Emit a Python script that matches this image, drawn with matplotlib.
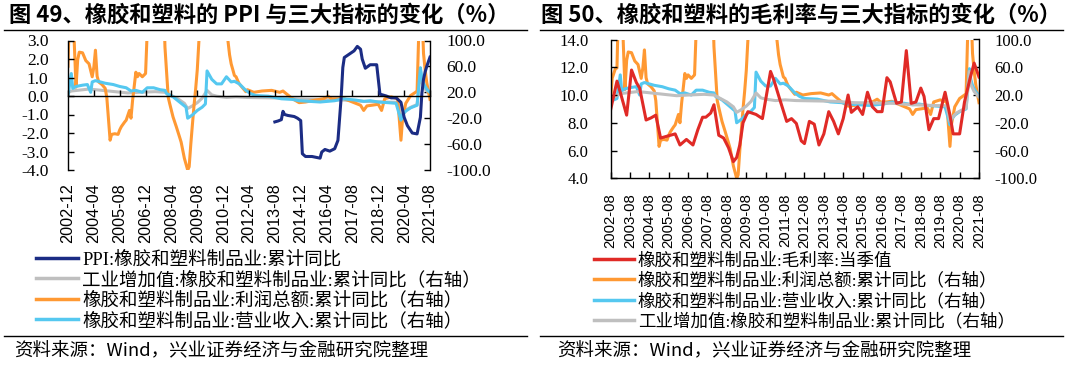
import matplotlib
matplotlib.use('Agg')
import matplotlib.pyplot as plt
import matplotlib.ticker as mticker
from matplotlib.lines import Line2D
from matplotlib.transforms import blended_transform_factory
import pandas as pd
import numpy as np

plt.rcParams['font.family'] = ['Noto Sans CJK SC', 'DejaVu Sans']

# ---------------- data ----------------
ppi_dates = ["2013-08", "2013-10", "2013-12", "2014-01", "2014-02", "2014-04", "2014-06", "2014-08",
             "2014-10", "2014-12", "2015-01", "2015-03", "2015-07", "2015-12", "2016-01", "2016-03",
             "2016-06", "2016-09", "2016-11", "2017-01", "2017-02", "2017-03", "2017-06", "2017-09",
             "2017-11", "2018-01", "2018-02", "2018-04", "2018-07", "2018-11", "2019-01", "2019-05",
             "2019-08", "2019-11", "2020-02", "2020-04", "2020-06", "2020-09", "2020-12", "2021-02",
             "2021-03", "2021-04", "2021-05", "2021-06", "2021-07", "2021-08"]
ppi_vals = [-1.40, -1.35, -1.28, -0.83, -1.00, -1.05, -1.08, -1.11,
            -1.20, -1.33, -3.12, -3.27, -3.27, -3.36, -3.03, -2.89,
            -2.98, -2.85, -2.40, -0.07, 1.54, 2.08, 2.26, 2.44,
            2.68, 2.53, 2.00, 1.50, 1.69, 1.69, 0.10, 0.00,
            -0.10, -0.10, -0.34, -1.15, -1.60, -2.00, -2.05, -1.15,
            0.15, 0.90, 1.30, 1.60, 1.85, 2.10]

profit_dates = ["2002-08", "2002-09", "2002-11", "2002-12", "2003-01", "2003-03", "2003-04", "2003-05",
                "2003-06", "2003-07", "2003-09", "2003-11", "2004-01", "2004-03", "2004-04", "2004-05",
                "2004-06", "2004-07", "2004-09", "2004-11", "2004-12", "2005-02", "2005-03", "2005-05",
                "2005-07", "2005-08", "2005-09", "2005-11", "2005-12", "2006-02", "2006-03", "2006-04",
                "2006-06", "2006-07", "2006-08", "2006-10", "2006-12", "2007-02", "2007-11", "2007-12",
                "2008-02", "2008-03", "2008-05", "2008-07", "2008-09", "2008-10", "2008-12", "2009-02",
                "2009-03", "2009-04", "2009-05", "2009-06", "2009-07", "2009-08", "2009-09", "2009-10",
                "2011-02", "2011-03", "2011-04", "2011-05", "2011-06", "2011-07", "2011-08", "2011-09",
                "2011-10", "2011-12", "2012-02", "2012-03", "2012-07", "2012-12", "2013-06", "2013-11",
                "2014-01", "2014-03", "2014-07", "2014-11", "2015-03", "2015-09", "2016-02", "2016-05",
                "2016-07", "2016-11", "2017-02", "2017-05", "2017-10", "2018-01", "2018-03", "2018-05",
                "2018-08", "2018-12", "2019-02", "2019-04", "2019-08", "2019-12", "2020-02", "2020-03",
                "2020-05", "2020-08", "2020-11", "2020-12", "2021-02", "2021-03", "2021-04", "2021-05",
                "2021-06", "2021-07", "2021-08"]
profit_vals = [10, 44, 58, 59, 160, 160, 90, 28,
               70, 82, 81, 69, 64, 44, 59, 85,
               45, 36, 32, 26, 12, -54, -45, -44,
               -45, -38, -33, -26, -23, -8, -20, 8,
               51, 44, 49, 44, 49, 180, 180, 90,
               12, 2, -18, -33, -49, -57, -82, -100,
               -95, -60, -30, 0, 25, 55, 100, 180,
               180, 100, 78, 64, 55, 46, 44, 38,
               33, 27, 21, 24, 20, 22, 23, 20,
               22, 18, 10, 4, 5, 8, 10, 14,
               10, 10, 11, 8, 3, 0, -8, -1,
               0, 1.5, -8, 10, 13, 10, -54, -22,
               3, 15, 20, 22, 200, 150, 80, 55,
               35, 22, 9]

revenue_dates = ["2002-08", "2002-09", "2002-11", "2002-12", "2003-02", "2003-03", "2003-05", "2003-09",
                 "2003-12", "2004-02", "2004-03", "2004-05", "2004-08", "2004-11", "2005-04", "2005-08",
                 "2005-12", "2006-03", "2006-06", "2006-10", "2007-01", "2007-05", "2007-09", "2007-12",
                 "2008-01", "2008-05", "2008-09", "2009-01", "2009-02", "2009-05", "2009-08", "2009-11",
                 "2010-01", "2010-02", "2010-05", "2010-08", "2010-11", "2011-02", "2011-05", "2011-07",
                 "2011-10", "2012-02", "2012-05", "2012-08", "2013-04", "2013-12", "2014-07", "2014-11",
                 "2015-12", "2016-09", "2017-02", "2017-06", "2017-10", "2018-03", "2018-07", "2018-12",
                 "2019-06", "2019-11", "2020-02", "2020-03", "2020-05", "2020-08", "2020-12", "2021-02",
                 "2021-03", "2021-04", "2021-05", "2021-06", "2021-07", "2021-08"]
revenue_vals = [6, 12, 14, 15, 49, 26, 29, 31,
                32, 20, 36, 38, 36, 34, 32, 29,
                27, 22, 23, 20, 27, 27, 24, 23,
                18, 13, 5, -3, -20, -15, -8, -3,
                2, 53, 40, 33, 33, 44, 36, 37,
                33, 23, 18, 15, 14, 10, 9, 7,
                5, 7, 10, 9, 8, 6, 7, 5,
                4, 3, -23, -15, -9, -4, 0, 58,
                42, 34, 29, 25, 22, 20]

va_dates = ["2002-08", "2003-02", "2004-01", "2005-01", "2006-01", "2006-08", "2007-06", "2007-12",
            "2008-04", "2008-08", "2008-12", "2009-02", "2009-05", "2009-08", "2009-11", "2010-02",
            "2010-05", "2010-08", "2011-02", "2011-08", "2012-03", "2013-03", "2014-03", "2015-03",
            "2016-03", "2017-03", "2018-03", "2019-03", "2019-12", "2020-02", "2020-04", "2020-06",
            "2020-09", "2020-12", "2021-02", "2021-03", "2021-05", "2021-08"]
va_vals = [14, 22, 25, 22, 19, 20, 21, 20,
           15, 10, 3, -5, -1, 4, 11, 23,
           16, 14, 12, 13, 12, 11.5, 11, 9,
           8.5, 8, 6, 5, 4.5, -18, -11, -6,
           -2, 1, 54, 35, 25, 17]

margin_dates = ["2002-08", "2002-12", "2003-02", "2003-06", "2003-09", "2003-12", "2004-02", "2004-06",
                "2004-09", "2004-12", "2005-03", "2005-06", "2005-09", "2005-12", "2006-03", "2006-07",
                "2006-11", "2007-02", "2007-05", "2007-07", "2007-10", "2007-12", "2008-03", "2008-06",
                "2008-09", "2008-12", "2009-02", "2009-04", "2009-06", "2009-09", "2010-02", "2010-06",
                "2010-11", "2011-01", "2011-05", "2011-09", "2011-12", "2012-03", "2012-06", "2012-08",
                "2012-11", "2013-02", "2013-05", "2013-08", "2013-11", "2014-02", "2014-05", "2014-08",
                "2014-11", "2015-01", "2015-05", "2015-08", "2015-11", "2016-02", "2016-05", "2016-08",
                "2016-11", "2017-01", "2017-05", "2017-08", "2017-11", "2018-02", "2018-05", "2018-08",
                "2018-10", "2019-01", "2019-04", "2019-07", "2019-11", "2020-02", "2020-04", "2020-08",
                "2020-11", "2021-02", "2021-05", "2021-08"]
margin_vals = [8.9, 11.0, 10.2, 8.55, 11.8, 10.9, 10.5, 8.2,
               8.35, 8.55, 6.9, 7.0, 7.1, 7.2, 6.4, 6.8,
               6.4, 7.5, 8.4, 8.4, 8.7, 9.3, 7.1, 6.9,
               6.2, 5.2, 5.5, 6.4, 8.0, 8.8, 8.6, 8.3,
               11.7, 11.1, 9.6, 8.1, 8.3, 7.95, 6.7, 6.5,
               8.1, 7.9, 6.4, 7.2, 8.8, 8.1, 7.2, 8.3,
               10.0, 8.75, 9.15, 8.6, 10.2, 9.15, 8.8, 8.8,
               11.25, 10.95, 9.4, 9.5, 13.2, 9.4, 9.5, 10.5,
               9.9, 7.5, 8.3, 8.3, 10.2, 8.55, 7.2, 7.2,
               9.5, 11.0, 12.3, 11.3]

left_ticks = ["2002-12", "2004-04", "2005-08", "2006-12", "2008-04", "2009-08", "2010-12", "2012-04",
              "2013-08", "2014-12", "2016-04", "2017-08", "2018-12", "2020-04", "2021-08"]
right_ticks = ["2002-08", "2003-08", "2004-08", "2005-08", "2006-08", "2007-08", "2008-08", "2009-08",
               "2010-08", "2011-08", "2012-08", "2013-08", "2014-08", "2015-08", "2016-08", "2017-08",
               "2018-08", "2019-08", "2020-08", "2021-08"]

lab_ppi = "PPI:橡胶和塑料制品业:累计同比"
lab_va = "工业增加值:橡胶和塑料制品业:累计同比（右轴）"
lab_profit = "橡胶和塑料制品业:利润总额:累计同比（右轴）"
lab_rev = "橡胶和塑料制品业:营业收入:累计同比（右轴）"
lab_margin = "橡胶和塑料制品业:毛利率:当季值"

title_left = "图 49、橡胶和塑料的 PPI 与三大指标的变化（%）"
title_right = "图 50、橡胶和塑料的毛利率与三大指标的变化（%）"
source_text = "资料来源：Wind，兴业证券经济与金融研究院整理"

# ---------------- styling ----------------
NAVY = '#1B2C84'
GRAY = '#BFBFBF'
ORANGE = '#FF9933'
CYAN = '#55C8F0'
RED = '#E02A26'
LW = 2.2


def dt(lst):
    return pd.to_datetime([d + '-01' for d in lst])


W, H = 1067, 371
fig = plt.figure(figsize=(W / 100, H / 100), dpi=100)


def fx(px):
    return px / W


def fy(py):
    return 1 - py / H


serif = ['Liberation Serif', 'Noto Sans CJK SC']
sans = ['Liberation Sans', 'Noto Sans CJK SC']

# ---------------- left panel ----------------
L_left, L_right, L_top, L_bot = 68, 430, 40.5, 170
axL = fig.add_axes([fx(L_left), fy(L_bot), (L_right - L_left) / W, (L_bot - L_top) / H])
twL = axL.twinx()

twL.plot(dt(va_dates), va_vals, color=GRAY, lw=LW)
twL.plot(dt(profit_dates), profit_vals, color=ORANGE, lw=LW)
twL.plot(dt(revenue_dates), revenue_vals, color=CYAN, lw=LW)
axL.plot(dt(ppi_dates), ppi_vals, color=NAVY, lw=LW)

axL.set_zorder(twL.get_zorder() + 1)
axL.patch.set_visible(False)

axL.set_xlim(dt(["2002-12"])[0], dt(["2021-08"])[0])
axL.set_ylim(-4, 3)
twL.set_ylim(-100, 100)
axL.set_yticks(np.arange(-4, 3.01, 1))
twL.set_yticks([-100, -60, -20, 20, 60, 100])
axL.yaxis.set_major_formatter(mticker.FormatStrFormatter('%.1f'))
twL.yaxis.set_major_formatter(mticker.FormatStrFormatter('%.1f'))

for s in ['top', 'right']:
    axL.spines[s].set_visible(False)
for s in ['top', 'bottom', 'left']:
    twL.spines[s].set_visible(False)
axL.spines['bottom'].set_position(('data', 0))
for a in (axL, twL):
    for s in a.spines.values():
        s.set_linewidth(1.0)

axL.set_xticks(dt(left_ticks))
axL.tick_params(axis='x', direction='in', length=4, width=1, labelbottom=False)
axL.tick_params(axis='y', direction='in', length=4, width=1, pad=14)
twL.tick_params(axis='y', direction='in', length=4, width=1, pad=12)
for t in axL.get_yticklabels():
    t.set_fontfamily(serif)
    t.set_fontsize(12.5)
for t in twL.get_yticklabels():
    t.set_fontfamily(serif)
    t.set_fontsize(12.5)

transL = blended_transform_factory(axL.transData, axL.transAxes)
for d, lab in zip(dt(left_ticks), left_ticks):
    axL.text(d, -(183 - L_bot) / (L_bot - L_top), lab, transform=transL, rotation=90,
             ha='center', va='top', fontsize=11.7, family=sans)

handlesL = [Line2D([], [], color=NAVY, lw=2.5), Line2D([], [], color=GRAY, lw=2.5),
            Line2D([], [], color=ORANGE, lw=2.5), Line2D([], [], color=CYAN, lw=2.5)]
fig.legend(handlesL, [lab_ppi, lab_va, lab_profit, lab_rev], loc='upper left',
           bbox_to_anchor=(fx(36), fy(251)), frameon=False, prop={'family': serif, 'size': 13.3},
           handlelength=2.3, handletextpad=0.2, labelspacing=0.14, borderpad=0, borderaxespad=0)

# ---------------- right panel ----------------
R_left, R_right, R_top, R_bot = 610.5, 979, 39.5, 178.3
axR = fig.add_axes([fx(R_left), fy(R_bot), (R_right - R_left) / W, (R_bot - R_top) / H])
twR = axR.twinx()

twR.plot(dt(profit_dates), profit_vals, color=ORANGE, lw=LW)
twR.plot(dt(revenue_dates), revenue_vals, color=CYAN, lw=LW)
twR.plot(dt(va_dates), va_vals, color=GRAY, lw=LW)
axR.plot(dt(margin_dates), margin_vals, color=RED, lw=LW)

axR.set_zorder(twR.get_zorder() + 1)
axR.patch.set_visible(False)

axR.set_xlim(dt(["2002-08"])[0], dt(["2021-08"])[0])
axR.set_ylim(4, 14)
twR.set_ylim(-100, 100)
axR.set_yticks(np.arange(4, 14.01, 2))
twR.set_yticks([-100, -60, -20, 20, 60, 100])
axR.yaxis.set_major_formatter(mticker.FormatStrFormatter('%.1f'))
twR.yaxis.set_major_formatter(mticker.FormatStrFormatter('%.1f'))

axR.spines['top'].set_visible(False)
axR.spines['right'].set_visible(False)
for s in ['top', 'bottom', 'left']:
    twR.spines[s].set_visible(False)
for a in (axR, twR):
    for s in a.spines.values():
        s.set_linewidth(1.0)

axR.set_xticks(dt(right_ticks))
axR.set_xticklabels(right_ticks, rotation=90, fontsize=10.7, family=sans)
axR.tick_params(axis='x', direction='in', length=4, width=1, pad=11)
axR.tick_params(axis='y', direction='in', length=4, width=1, pad=16)
twR.tick_params(axis='y', direction='in', length=4, width=1, pad=11)
for t in axR.get_yticklabels():
    t.set_fontfamily(serif)
    t.set_fontsize(12)
for t in twR.get_yticklabels():
    t.set_fontfamily(serif)
    t.set_fontsize(12)

handlesR = [Line2D([], [], color=RED, lw=2.5), Line2D([], [], color=ORANGE, lw=2.5),
            Line2D([], [], color=CYAN, lw=2.5), Line2D([], [], color=GRAY, lw=2.5)]
fig.legend(handlesR, [lab_margin, lab_profit, lab_rev, lab_va], loc='upper left',
           bbox_to_anchor=(fx(594), fy(253)), frameon=False, prop={'family': serif, 'size': 12.6},
           handlelength=2.3, handletextpad=0.2, labelspacing=0.2, borderpad=0, borderaxespad=0)

# ---------------- titles, rules, sources ----------------
fig.text(fx(9), fy(15), title_left, fontsize=16, fontweight='bold', va='center', ha='left')
fig.text(fx(541), fy(15), title_right, fontsize=16, fontweight='bold', va='center', ha='left')
for x0, x1 in [(4, 527), (540, 1063)]:
    fig.add_artist(Line2D([fx(x0), fx(x1)], [fy(29.5), fy(29.5)], color='black', lw=1.0))
    fig.add_artist(Line2D([fx(x0), fx(x1)], [fy(336), fy(336)], color='black', lw=1.0))
fig.text(fx(14), fy(351), source_text, fontsize=13.3, va='center', ha='left')
fig.text(fx(557), fy(351), source_text, fontsize=13.3, va='center', ha='left')

fig.savefig('out.png', dpi=100)
